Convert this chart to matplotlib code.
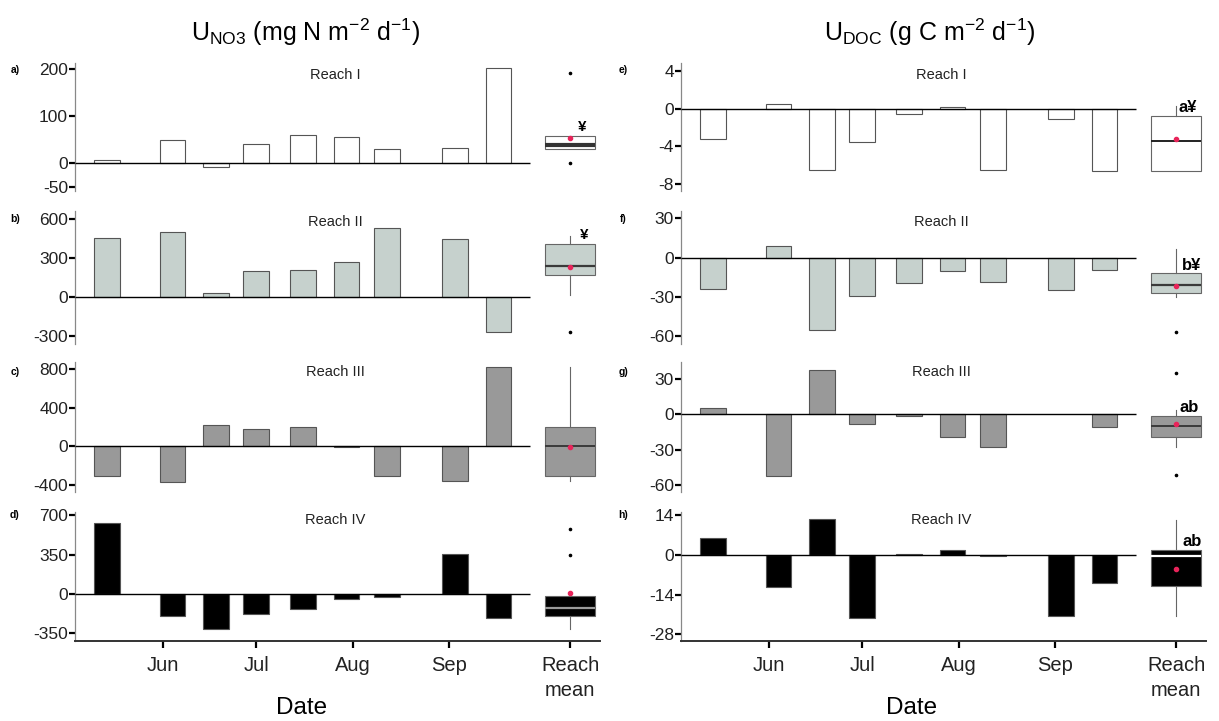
import numpy as np
import pandas as pd
import matplotlib
matplotlib.use("Agg")
import matplotlib.pyplot as plt
import matplotlib.dates as mdates

plt.rcParams["font.family"] = ["Liberation Sans", "DejaVu Sans"]
plt.rcParams["mathtext.fontset"] = "custom"
plt.rcParams["mathtext.rm"] = "Liberation Sans"
plt.rcParams["mathtext.it"] = "Liberation Sans:italic"

# sampling dates (same for both solutes)
sample_dates = ["2015-05-14", "2015-06-04", "2015-06-18", "2015-07-01", "2015-07-16",
                "2015-07-30", "2015-08-12", "2015-09-03", "2015-09-17"]
month_ticks = ["2015-06-01", "2015-07-01", "2015-08-01", "2015-09-01"]
month_labels = ["Jun", "Jul", "Aug", "Sep"]
mean_date = "2015-10-10"
reaches = ["Reach I", "Reach II", "Reach III", "Reach IV"]

# nitrate uptake, mg N m-2 d-1
no3_r1 = [7, 50, -7, 40, 59, 56, 30, 32, 202]
no3_r2 = [450, 495, 28, 195, 205, 270, 525, 440, -270]
no3_r3 = [-300, -370, 220, 180, 195, -10, -310, -355, 815]
no3_r4 = [629, -196, -309, -181, -131, -44, -27, 356, -211]

# DOC uptake, g C m-2 d-1
doc_r1 = [-3.2, 0.5, -6.6, -3.6, -0.6, 0.2, -6.6, -1.1, -6.7]
doc_r2 = [-23.9, 9.2, -55.4, -29.0, -19.0, -10.2, -18.8, -24.9, -9.4]
doc_r3 = [5.5, -51.8, 37.3, -8.4, -1.5, -18.8, -28.0, np.nan, -10.9]
doc_r4 = [5.9, -11.2, 12.7, -22.1, 0.5, 1.9, -0.3, -21.4, -9.8]

# reach mean box summaries:
# q1, median, q3, whisker low, whisker high, mean, outliers
no3_box = [
    (30, 38, 57, 30, 57, 54, [0, 191]),
    (167, 236, 405, 13, 467, 226, [-270]),
    (-305, 0, 203, -360, 820, -5, []),
    (-196, -122, -15, -314, -15, 5, [575, 345]),
]
doc_box = [
    (-6.7, -3.5, -0.8, -6.7, 0.3, -3.2, []),
    (-26.7, -20.8, -11.9, -30, 6.6, -21.6, [-57]),
    (-18.8, -9.6, -1.4, -28, 3.6, -8.4, [34.5, -51.6]),
    (-10.8, -0.2, 1.8, -21.5, 12.4, -4.9, []),
]
no3_marks = ["¥", "¥", "", ""]
doc_marks = ["a¥", "b¥", "ab", "ab"]

no3_ylims = [(-59, 213), (-364, 659), (-470, 870), (-418, 730)]
doc_ylims = [(-8.8, 4.9), (-65.8, 35.6), (-65.6, 44.1), (-30.4, 15.2)]
no3_yticks = [[-50, 0, 100, 200], [-300, 0, 300, 600], [-400, 0, 400, 800], [-350, 0, 350, 700]]
doc_yticks = [[-8, -4, 0, 4], [-60, -30, 0, 30], [-60, -30, 0, 30], [-28, -14, 0, 14]]

fills = ["white", "#c6d1cd", "#999999", "black"]
median_no3 = [("#333333", 3.0), ("#3a3a3a", 1.6), ("#3a3a3a", 1.4), ("#9a9a9a", 1.6)]
median_doc = [("#222222", 1.4), ("#3a3a3a", 1.6), ("#3a3a3a", 1.4), ("white", 1.6)]

W, H = 1219, 721
fig = plt.figure(figsize=(W / 100, H / 100), dpi=100)

x_dates = mdates.date2num(pd.to_datetime(sample_dates))
x_ticks = list(mdates.date2num(pd.to_datetime(month_ticks)))
x_mean = mdates.date2num(pd.Timestamp(mean_date))
x_left = mdates.date2num(pd.Timestamp("2015-05-03")) + 0.7
x_right = x_left + 168.9
x_zero_end = mdates.date2num(pd.Timestamp("2015-09-27"))

rows_px = [(63, 191), (211, 344), (362, 492), (512, 641)]
col_left_px = [75, 681]
col_width_px = 525


def fx(px):
    return px / W


def fy(py):
    return 1 - py / H


def draw_panel(ax, vals, box, ylim, yticks, fill, med, bottom):
    ax.bar(x_dates, vals, width=8.2, color=fill, edgecolor="#555555", linewidth=0.8, zorder=2)
    ax.hlines(0, x_left, x_zero_end, color="black", linewidth=1.0, zorder=3)
    q1, m, q3, wlo, whi, mean, fl = box
    stats = [dict(q1=q1, med=m, q3=q3, whislo=wlo, whishi=whi, mean=mean, fliers=fl)]
    ax.bxp(stats, positions=[x_mean], widths=16, patch_artist=True, showmeans=True,
           showcaps=False, manage_ticks=False,
           boxprops=dict(facecolor=fill, edgecolor="#666666", linewidth=0.8),
           medianprops=dict(color=med[0], linewidth=med[1]),
           whiskerprops=dict(color="#666666", linewidth=0.8),
           flierprops=dict(marker="o", markersize=1.6, markerfacecolor="black",
                           markeredgecolor="black"),
           meanprops=dict(marker="o", markersize=3, markerfacecolor="#e8245a",
                          markeredgecolor="#e8245a"))
    ax.set_xlim(x_left, x_right)
    ax.set_ylim(*ylim)
    ax.set_yticks(yticks)
    ax.set_yticklabels([str(t) for t in yticks])
    ax.tick_params(axis="y", direction="out", length=4, width=1.6, color="black",
                   labelsize=12.5, labelcolor="#222222", pad=1)
    for s in ["top", "right"]:
        ax.spines[s].set_visible(False)
    ax.spines["left"].set_color("#888888")
    ax.spines["left"].set_linewidth(0.9)
    if bottom:
        ax.spines["bottom"].set_color("#333333")
        ax.spines["bottom"].set_linewidth(1.4)
        ax.set_xticks(x_ticks + [x_mean])
        ax.set_xticklabels(month_labels + ["Reach\nmean"], linespacing=1.35)
        ax.tick_params(axis="x", direction="out", length=5, width=1.6, color="black",
                       labelsize=14.5, labelcolor="#222222", pad=6)
    else:
        ax.spines["bottom"].set_visible(False)
        ax.set_xticks([])


no3_vals = [no3_r1, no3_r2, no3_r3, no3_r4]
doc_vals = [doc_r1, doc_r2, doc_r3, doc_r4]
labels_left = ["a)", "b)", "c)", "d)"]
labels_right = ["e)", "f)", "g)", "h)"]
label_y = [70, 219, 372, 515]
reach_y = [75, 222, 372, 520]
no3_mark_pos = [(582, 127), (584, 235)]
doc_mark_pos = [(1188, 108), (1192, 265), (1189, 407), (1192, 541)]

for c, (vals_set, boxes, ylims, yts, meds) in enumerate([
        (no3_vals, no3_box, no3_ylims, no3_yticks, median_no3),
        (doc_vals, doc_box, doc_ylims, doc_yticks, median_doc)]):
    for r in range(4):
        top, bot = rows_px[r]
        ax = fig.add_axes([fx(col_left_px[c]), fy(bot), fx(col_width_px), (bot - top) / H])
        draw_panel(ax, vals_set[r], boxes[r], ylims[r], yts[r], fills[r], meds[r], r == 3)
        fig.text(fx(col_left_px[c] + 260), fy(reach_y[r]), reaches[r],
                 ha="center", va="center", fontsize=10.5, color="#222222")
        lab = labels_left[r] if c == 0 else labels_right[r]
        fig.text(fx(15 if c == 0 else 623), fy(label_y[r]), lab, ha="center", va="center",
                 fontsize=7.5, fontweight="bold")

for (px, py), m in zip(no3_mark_pos, no3_marks):
    fig.text(fx(px), fy(py), m, ha="center", va="center", fontsize=11, fontweight="bold")
for (px, py), m in zip(doc_mark_pos, doc_marks):
    fig.text(fx(px), fy(py), m, ha="center", va="center", fontsize=12, fontweight="bold")

fig.text(fx(306), fy(32), r"U$_{\mathrm{NO3}}$ (mg N m$^{-2}$ d$^{-1}$)",
         ha="center", va="center", fontsize=18)
fig.text(fx(930), fy(32), r"U$_{\mathrm{DOC}}$ (g C m$^{-2}$ d$^{-1}$)",
         ha="center", va="center", fontsize=18)
fig.text(fx(302), fy(708), "Date", ha="center", va="center", fontsize=17.5)
fig.text(fx(912), fy(708), "Date", ha="center", va="center", fontsize=17.5)

fig.savefig("out.png", dpi=100)
